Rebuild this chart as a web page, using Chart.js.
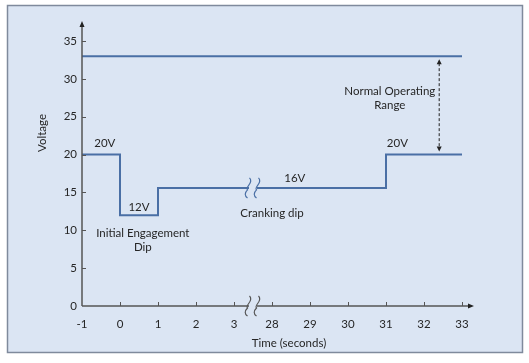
<!DOCTYPE html>
<html lang="en">
<head>
    <meta charset="UTF-8">
    <title>Cranking Voltage Profile</title>
    <script src="https://cdn.jsdelivr.net/npm/chart.js"></script>
    <style>
        body { margin: 0; background: #fff; }
    </style>
</head>
<body>
    <canvas id="voltageChart" width="529" height="363"></canvas>

    <script>
// Tick labels on the broken time axis (3 -> 28 is a break)
const timeTicks = ['-1', '0', '1', '2', '3', '28', '29', '30', '31', '32', '33'];
const voltTicks = [0, 5, 10, 15, 20, 25, 30, 35];

// Cranking pulse (step shape)
const pulseTime = [-1, 0, 0, 1, 1, 31, 31, 33];
const pulseVolts = [20, 20, 12, 12, 15.6, 15.6, 20, 20];

// Upper limit line
const limitTime = [-1, 33];
const limitVolts = [33, 33];

// Text notes: [text, time, volts]
const notes = [
    ['33V', 16.5, 34.1],
    ['20V', -0.4, 21.5],
    ['12V', 0.5, 13],
    ['Initial Engagement', 0.6, 9.6],
    ['Dip', 0.6, 7.7],
    ['Cranking dip', 28.0, 12.2],
    ['16V', 28.6, 16.9],
    ['20V', 31.3, 21.5],
    ['Normal Operating', 31.1, 28.4],
    ['Range', 31.1, 26.5]
];
const rangeArrowTime = 32.4;

// time -> position on the compressed axis
function pos(t) {
    return t <= 3 ? t + 1 : t - 23;
}
const breakPos = 4.5;

const lineColor = '#4a6fa5';
const textColor = '#262626';
const axisColor = '#555555';
const font = 'Lato, "Open Sans", sans-serif';
const fontSize = 11.5;

const decorations = {
    id: 'decorations',
    beforeDraw(chart) {
        const c = chart.ctx;
        c.save();
        c.fillStyle = '#ffffff';
        c.fillRect(0, 0, chart.width, chart.height);
        c.fillStyle = '#dbe5f3';
        c.fillRect(7, 5, 516, 348);
        c.strokeStyle = '#7f8a9c';
        c.lineWidth = 1.5;
        c.strokeRect(7.5, 5.5, 515, 347);
        c.restore();
    },
    afterDatasetsDraw(chart) {
        const c = chart.ctx;
        const xs = chart.scales.x;
        const ys = chart.scales.y;
        const x0 = xs.getPixelForValue(0);
        const y0 = ys.getPixelForValue(0);
        c.save();

        // axes
        c.strokeStyle = axisColor;
        c.fillStyle = '#222';
        c.lineWidth = 1.5;
        c.beginPath();
        c.moveTo(x0, y0);
        c.lineTo(x0, 25);
        c.moveTo(x0, y0);
        c.lineTo(470, y0);
        c.stroke();
        c.beginPath();
        c.moveTo(x0, 21); c.lineTo(x0 - 2.5, 27); c.lineTo(x0 + 2.5, 27); c.closePath();
        c.moveTo(474, y0); c.lineTo(468, y0 - 2.5); c.lineTo(468, y0 + 2.5); c.closePath();
        c.fill();

        // inward ticks
        c.lineWidth = 1;
        c.beginPath();
        for (let i = 1; i < timeTicks.length; i++) {
            const x = Math.round(xs.getPixelForValue(i)) + 0.5;
            c.moveTo(x, y0);
            c.lineTo(x, y0 - 4);
        }
        for (let i = 1; i < voltTicks.length; i++) {
            const y = Math.round(ys.getPixelForValue(voltTicks[i])) + 0.5;
            c.moveTo(x0, y);
            c.lineTo(x0 + 4, y);
        }
        c.stroke();

        // axis breaks
        const bx = xs.getPixelForValue(breakPos);
        const drawBreak = (y, color) => {
            c.fillStyle = '#dbe5f3';
            c.fillRect(bx - 4, y - 2, 8, 4);
            c.strokeStyle = color;
            c.lineWidth = 1.2;
            [-4.5, 4.5].forEach(dx => {
                const cx = bx + dx;
                c.beginPath();
                c.moveTo(cx + 1, y - 10);
                c.bezierCurveTo(cx + 6, y - 5, cx - 4, y - 1, cx - 1, y + 2);
                c.bezierCurveTo(cx - 4, y + 5, cx - 4, y + 8, cx - 1, y + 10);
                c.stroke();
            });
        };
        drawBreak(y0, axisColor);
        drawBreak(ys.getPixelForValue(pulseVolts[4]), lineColor);

        // normal operating range arrow
        const ax = xs.getPixelForValue(pos(rangeArrowTime));
        const ya = ys.getPixelForValue(limitVolts[0]) + 3;
        const yb = ys.getPixelForValue(pulseVolts[7]) - 3;
        c.strokeStyle = '#222';
        c.lineWidth = 1;
        c.setLineDash([3, 2]);
        c.beginPath();
        c.moveTo(ax, ya + 4);
        c.lineTo(ax, yb - 4);
        c.stroke();
        c.setLineDash([]);
        c.fillStyle = '#222';
        c.beginPath();
        c.moveTo(ax, ya); c.lineTo(ax - 2.5, ya + 5); c.lineTo(ax + 2.5, ya + 5); c.closePath();
        c.moveTo(ax, yb); c.lineTo(ax - 2.5, yb - 5); c.lineTo(ax + 2.5, yb - 5); c.closePath();
        c.fill();

        // notes
        c.fillStyle = textColor;
        c.font = fontSize + 'px ' + font;
        c.textAlign = 'center';
        c.textBaseline = 'middle';
        notes.forEach(([text, t, v]) => {
            c.fillText(text, xs.getPixelForValue(pos(t)), ys.getPixelForValue(v));
        });

        // axis titles
        c.fillText('Time (seconds)', 289, 343);
        c.translate(42, 133);
        c.rotate(-Math.PI / 2);
        c.fillText('Voltage', 0, 0);
        c.restore();
    }
};

const ctx = document.getElementById('voltageChart').getContext('2d');
const chart = new Chart(ctx, {
    type: 'line',
    data: {
        datasets: [
            {
                label: 'Limit',
                data: limitTime.map((t, i) => ({ x: pos(t), y: limitVolts[i] })),
                borderColor: lineColor,
                borderWidth: 2,
                pointRadius: 0,
            },
            {
                label: 'Cranking pulse',
                data: pulseTime.map((t, i) => ({ x: pos(t), y: pulseVolts[i] })),
                borderColor: lineColor,
                borderWidth: 2,
                pointRadius: 0,
            },
        ],
    },
    options: {
        responsive: false,
        animation: false,
        layout: { padding: { left: 0, top: 41, right: 67, bottom: 0 } },
        plugins: {
            legend: { display: false },
            tooltip: { enabled: false },
        },
        scales: {
            x: {
                type: 'linear',
                min: 0,
                max: timeTicks.length - 1,
                grid: { display: false, drawTicks: false },
                border: { display: false },
                afterBuildTicks: s => { s.ticks = timeTicks.map((_, i) => ({ value: i })); },
                afterFit: s => { s.height = 57; },
                ticks: {
                    padding: 11,
                    color: textColor,
                    font: { family: font, size: fontSize },
                    callback: (v, i) => timeTicks[i],
                    maxRotation: 0,
                    autoSkip: false,
                },
            },
            y: {
                min: 0,
                max: 35,
                grid: { display: false, drawTicks: false },
                border: { display: false },
                afterBuildTicks: s => { s.ticks = voltTicks.map(v => ({ value: v })); },
                afterFit: s => { s.width = 82; },
                ticks: {
                    padding: 5,
                    color: textColor,
                    font: { family: font, size: fontSize },
                },
            },
        },
    },
    plugins: [decorations],
});
    </script>
</body>
</html>
